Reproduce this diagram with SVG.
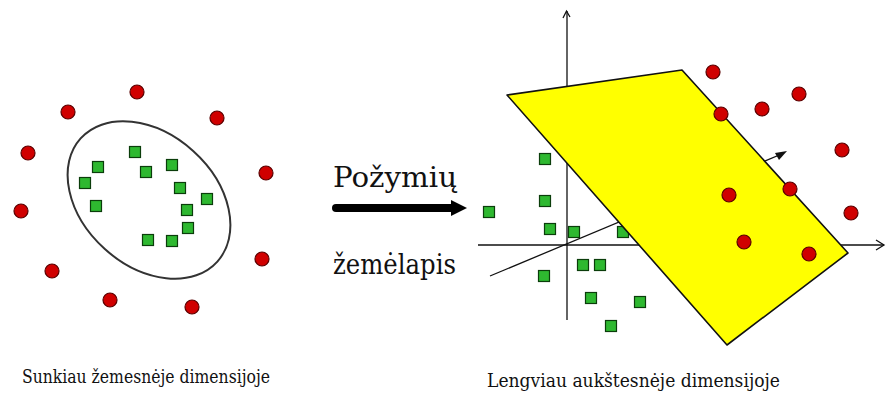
<svg xmlns="http://www.w3.org/2000/svg" width="886" height="394" viewBox="0 0 886 394">
<defs>
<style>
.r{fill:#d00000;stroke:#5a0000;stroke-width:1.2}
.g{fill:#2eb830;stroke:#0b3d0b;stroke-width:1.2}
.ax{stroke:#111;stroke-width:1.3;fill:none}
.t{fill:#111;font-family:'DejaVu Serif',serif}
</style>
<circle id="rc" r="7" class="r"/>
<rect id="gs" x="-5.5" y="-5.5" width="11" height="11" class="g"/>
</defs>
<rect width="886" height="394" fill="#fff"/>

<g id="left-space">
<ellipse id="boundary" cx="149" cy="200" rx="92" ry="66" transform="rotate(42 149 200)" fill="none" stroke="#333" stroke-width="2"/>
<g id="left-squares">
<use href="#gs" x="135" y="152"/><use href="#gs" x="98" y="167"/><use href="#gs" x="146" y="172"/>
<use href="#gs" x="172" y="165"/><use href="#gs" x="85" y="183"/><use href="#gs" x="180" y="188"/>
<use href="#gs" x="207" y="199"/><use href="#gs" x="96" y="206"/><use href="#gs" x="187" y="210"/>
<use href="#gs" x="188" y="228"/><use href="#gs" x="148" y="240"/><use href="#gs" x="172" y="241"/>
</g>
<g id="left-circles">
<use href="#rc" x="137" y="92"/><use href="#rc" x="68" y="112"/><use href="#rc" x="217" y="118"/>
<use href="#rc" x="28" y="153"/><use href="#rc" x="266" y="173"/><use href="#rc" x="21" y="211"/>
<use href="#rc" x="262" y="259"/><use href="#rc" x="52" y="271"/><use href="#rc" x="110" y="300"/>
<use href="#rc" x="192" y="307"/>
</g>
</g>

<g id="connectors">
<g id="mapping-arrow">
<line x1="336" y1="208" x2="455" y2="208" stroke="#000" stroke-width="8" stroke-linecap="round"/>
<polygon points="451,200 467,208 451,216" fill="#000"/>
</g>
</g>

<g id="mapping-label">
<text class="t" x="333" y="187" font-size="27" textLength="124" lengthAdjust="spacingAndGlyphs">Požymių</text>
<text class="t" x="333" y="274" font-size="27" textLength="123" lengthAdjust="spacingAndGlyphs">žemėlapis</text>
</g>

<g id="right-space">
<g id="axes">
<line class="ax" x1="567" y1="11" x2="567" y2="320"/>
<polyline class="ax" points="563,18 566.5,11 570,17"/>
<line class="ax" x1="478" y1="245" x2="884" y2="245"/>
<polyline class="ax" points="876,240 884,245 876,250"/>
<line class="ax" x1="490" y1="276" x2="784" y2="153"/>
<polygon points="787,151 775,153 779,160" fill="#111"/>
</g>
<g id="right-squares">
<use href="#gs" x="545" y="159"/><use href="#gs" x="545" y="201"/><use href="#gs" x="489" y="212"/>
<use href="#gs" x="550" y="229"/><use href="#gs" x="574" y="232"/><use href="#gs" x="623" y="232"/>
<use href="#gs" x="583" y="265"/><use href="#gs" x="600" y="265"/><use href="#gs" x="544" y="276"/>
<use href="#gs" x="591" y="298"/><use href="#gs" x="640" y="302"/><use href="#gs" x="611" y="326"/>
</g>
<polygon id="hyperplane" points="507,95 682,70 848,253 727,345" fill="#ffff00" stroke="#111" stroke-width="1.6" stroke-linejoin="round"/>
<g id="right-circles">
<use href="#rc" x="713" y="72"/><use href="#rc" x="799" y="94"/><use href="#rc" x="762" y="109"/>
<use href="#rc" x="721" y="114"/><use href="#rc" x="842" y="150"/><use href="#rc" x="729" y="195"/>
<use href="#rc" x="790" y="189"/><use href="#rc" x="851" y="213"/><use href="#rc" x="744" y="242"/>
<use href="#rc" x="809" y="254"/>
</g>
</g>

<g id="captions">
<text class="t" x="22" y="383" font-size="18" textLength="248" lengthAdjust="spacingAndGlyphs">Sunkiau žemesnėje dimensijoje</text>
<text class="t" x="487" y="387" font-size="18" textLength="293" lengthAdjust="spacingAndGlyphs">Lengviau aukštesnėje dimensijoje</text>
</g>
</svg>
